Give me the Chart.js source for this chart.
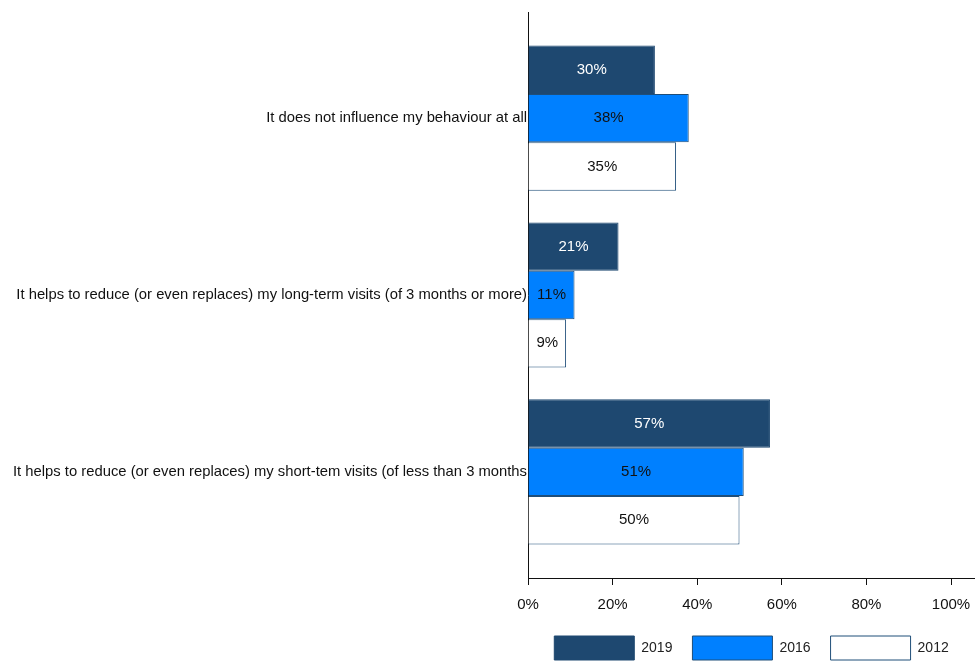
<!DOCTYPE html>
<html>
<head>
<meta charset="utf-8">
<script src="https://cdn.jsdelivr.net/npm/chart.js@4.4.1/dist/chart.umd.min.js"></script>
<style>
html,body{margin:0;padding:0;background:#fff;}
#wrap{width:975px;height:662px;}
</style>
</head>
<body>
<div id="wrap"><canvas id="c" width="975" height="662"></canvas></div>
<script>
const categories = [
  "It does not influence my behaviour at all",
  "It helps to reduce (or even replaces) my long-term visits (of 3 months or more)",
  "It helps to reduce (or even replaces) my short-tem visits (of less than 3 months"
];
const seriesNames = ["2019", "2016", "2012"];
const values2019 = [30, 21.4, 57.2];
const values2016 = [38, 11, 51];
const values2012 = [35, 9, 50];
const xTicks = [0, 20, 40, 60, 80, 100];

const fills = ["#1E4870", "#0080FF", "#FFFFFF"];
const borders = ["#1E4870", "#1F4E79", "#1F4E79"];
const labelColors = ["#FFFFFF", "#111111", "#111111"];
const FONT = "'Liberation Sans', Arial, sans-serif";

function toPoints(arr){ return arr.map((v,i)=>({x:v, y:i})); }

const valueLabels = {
  id: 'valueLabels',
  afterDatasetsDraw(chart){
    const ctx = chart.ctx;
    ctx.save();
    ctx.font = "15px " + FONT;
    ctx.textAlign = 'center';
    ctx.textBaseline = 'middle';
    chart.data.datasets.forEach((ds, di) => {
      const meta = chart.getDatasetMeta(di);
      meta.data.forEach((el, i) => {
        const v = ds.data[i].x;
        ctx.fillStyle = labelColors[di];
        ctx.fillText(Math.round(v) + '%', (el.x + el.base)/2, el.y);
      });
    });
    ctx.restore();
  }
};

new Chart(document.getElementById('c'), {
  type: 'bar',
  data: {
    datasets: [
      {label: seriesNames[0], data: toPoints(values2019), backgroundColor: fills[0], borderColor: borders[0], borderWidth: 1},
      {label: seriesNames[1], data: toPoints(values2016), backgroundColor: fills[1], borderColor: borders[1], borderWidth: 1},
      {label: seriesNames[2], data: toPoints(values2012), backgroundColor: fills[2], borderColor: borders[2], borderWidth: 1}
    ]
  },
  options: {
    indexAxis: 'y',
    responsive: false,
    animation: false,
    categoryPercentage: 0.82,
    barPercentage: 1,
    layout: {padding: {top: 12, left: 0, right: 0, bottom: 0}},
    plugins: {
      tooltip: {enabled: false},
      legend: {
        position: 'bottom',
        fullSize: false,
        maxHeight: 46,
        labels: {
          boxWidth: 80,
          boxHeight: 24,
          padding: 20,
          color: '#222',
          font: {family: FONT, size: 14}
        }
      }
    },
    scales: {
      y: {
        type: 'linear',
        min: -0.6,
        max: 2.6,
        reverse: true,
        offset: false,
        afterBuildTicks: (s) => { s.ticks = categories.map((c,i)=>({value:i})); },
        afterFit: (s) => { s.width = 528; s.paddingTop = 0; s.paddingBottom = 0; },
        grid: {display: true, drawOnChartArea: false, drawTicks: false, offset: false},
        border: {display: true, color: '#111', width: 1},
        ticks: {
          padding: 1,
          color: '#111',
          font: {family: FONT, size: 14.8},
          callback: (v) => categories[v]
        }
      },
      x: {
        type: 'linear',
        min: 0,
        max: 105.67,
        afterBuildTicks: (s) => { s.ticks = xTicks.map(v=>({value:v})); },
        afterFit: (s) => { s.height = 38; s.paddingLeft = 0; s.paddingRight = 0; },
        grid: {display: true, drawOnChartArea: false, drawTicks: true, tickLength: 7, color: '#111'},
        border: {display: true, color: '#111', width: 1},
        ticks: {
          padding: 11,
          color: '#111',
          maxRotation: 0,
          font: {family: FONT, size: 15},
          callback: (v) => v + '%'
        }
      }
    }
  },
  plugins: [valueLabels]
});
</script>
</body>
</html>
